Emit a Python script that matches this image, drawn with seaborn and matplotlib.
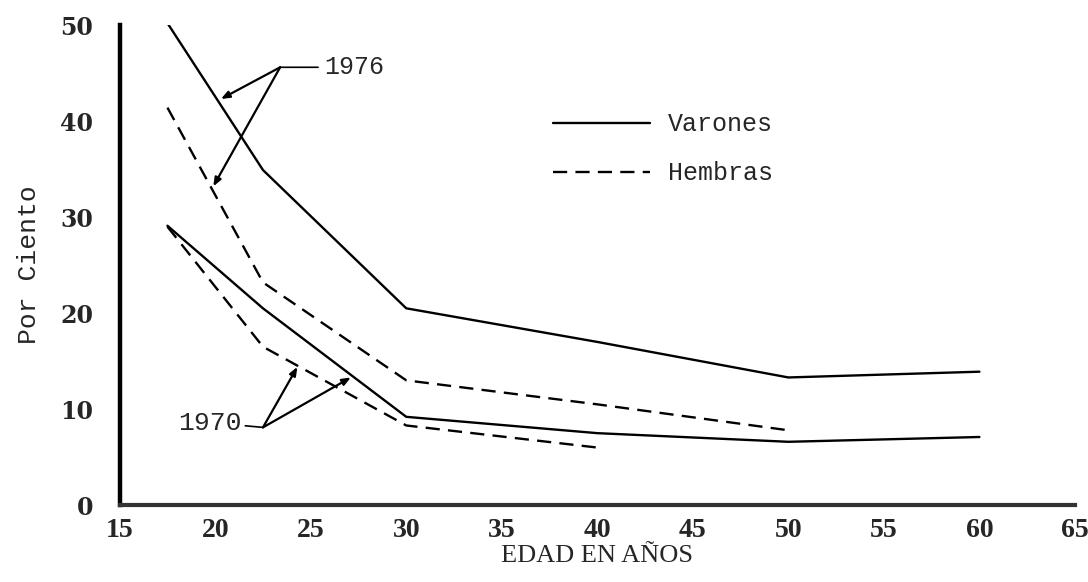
import matplotlib
matplotlib.use("Agg")
import matplotlib.pyplot as plt
import seaborn as sns
import pandas as pd
from matplotlib.lines import Line2D

# ---- data ----
edad_v = [17.5, 22.5, 30, 40, 50, 60]
varones_1976 = [50.2, 34.9, 20.5, 17.0, 13.3, 13.9]
varones_1970 = [29.1, 20.5, 9.2, 7.5, 6.6, 7.1]
edad_h1976 = [17.5, 22.5, 30, 40, 50]
hembras_1976 = [41.4, 23.2, 13.0, 10.5, 7.8]
edad_h1970 = [17.5, 22.5, 30, 40]
hembras_1970 = [29.0, 16.5, 8.3, 6.0]

x_ticks = [15, 20, 25, 30, 35, 40, 45, 50, 55, 60, 65]
y_ticks = [0, 10, 20, 30, 40, 50]

sns.set_style("white")
fig = plt.figure(figsize=(10.88, 5.82), dpi=100)
ax = fig.add_axes([0.110, 0.132, 0.878, 0.825])

solid = "-"
dashed = (0, (6, 3.5))
series = [
    (edad_v, varones_1976, solid),
    (edad_h1976, hembras_1976, dashed),
    (edad_v, varones_1970, solid),
    (edad_h1970, hembras_1970, dashed),
]
for xs, ys, ls in series:
    df = pd.DataFrame({"edad": xs, "pct": ys})
    sns.lineplot(data=df, x="edad", y="pct", ax=ax, color="black",
                 linewidth=1.7, linestyle=ls, sort=False, legend=False)

ax.set_xlim(15, 65)
ax.set_ylim(0, 50)
ax.set_xticks(x_ticks)
ax.set_yticks(y_ticks)
ax.set_xticklabels([str(t) for t in x_ticks], fontfamily="Liberation Serif",
                   fontweight="bold", fontsize=20)
ax.set_yticklabels([str(t) for t in y_ticks], fontfamily="DejaVu Serif",
                   fontweight="bold", fontsize=17)
ax.tick_params(axis="x", direction="out", length=9, width=2, pad=0)
ax.tick_params(axis="y", direction="out", length=12, width=2, pad=7)
for s in ("top", "right"):
    ax.spines[s].set_visible(False)
ax.spines["left"].set_linewidth(3.2)
ax.spines["bottom"].set_linewidth(3.0)
ax.spines["left"].set_color("black")
ax.spines["bottom"].set_color("#333333")

ax.set_xlabel("EDAD EN AÑOS", fontfamily="Liberation Serif", fontsize=19,
              labelpad=2)
ax.set_ylabel("Por Ciento", fontfamily="Liberation Mono", fontsize=19,
              labelpad=14)

# annotations
arrow = dict(arrowstyle="-|>,head_length=0.5,head_width=0.2", lw=1.6,
             color="black", shrinkA=0, shrinkB=0)
apex_1976 = (23.4, 45.6)
for tgt in [(20.3, 42.3), (19.9, 33.2)]:
    ax.annotate("", xy=tgt, xytext=apex_1976, arrowprops=arrow)
ax.annotate("1976", xy=apex_1976, xytext=(25.7, 45.6), va="center", ha="left",
            fontfamily="Liberation Mono", fontsize=18,
            arrowprops=dict(arrowstyle="-", lw=1.2, color="black",
                            shrinkA=2, shrinkB=0))

apex_1970 = (22.5, 8.1)
for tgt in [(24.3, 14.4), (27.1, 13.3)]:
    ax.annotate("", xy=tgt, xytext=apex_1970, arrowprops=arrow)
ax.annotate("1970", xy=apex_1970, xytext=(21.4, 8.6), va="center", ha="right",
            fontfamily="Liberation Mono", fontsize=19,
            arrowprops=dict(arrowstyle="-", lw=1.2, color="black",
                            shrinkA=0, shrinkB=0))

handles = [Line2D([], [], color="black", lw=1.7, linestyle=solid),
           Line2D([], [], color="black", lw=1.7, linestyle=dashed)]
ax.legend(handles, ["Varones", "Hembras"], loc="upper left",
          bbox_to_anchor=(0.43, 0.865), frameon=False, handlelength=3.9,
          handletextpad=0.7, labelspacing=1.0,
          prop={"family": "Liberation Mono", "size": 18})

fig.savefig("out.png", dpi=100)
